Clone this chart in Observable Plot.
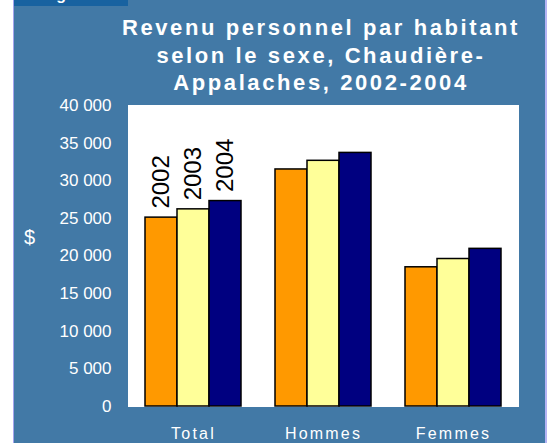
<!DOCTYPE html>
<html>
<head>
<meta charset="utf-8">
<script src="https://cdn.jsdelivr.net/npm/d3@7"></script>
<script src="https://cdn.jsdelivr.net/npm/@observablehq/plot@0.6"></script>
<style>
  html, body { margin: 0; padding: 0; background: #ffffff; width: 555px; height: 443px; overflow: hidden; }
  body { position: relative; font-family: "Liberation Sans", Arial, sans-serif; }
  #panel { position: absolute; left: 13px; top: 0; width: 531px; height: 443px; background: #4279a6;
           border-left: 1px solid #a4a4ee; border-right: 2px solid #b4b4f4; }
  #tab { position: absolute; left: 0; top: 0; width: 114px; height: 6px; background: #1862a0; overflow: hidden; }
  #tab span { position: absolute; left: 24px; top: -14px; color: #fff; font-weight: bold; font-size: 16px; letter-spacing: 2px; }
  #title { position: absolute; left: 57px; top: 14px; width: 500px; text-align: center; color: #fff;
           font-weight: bold; font-size: 22px; line-height: 27.5px; letter-spacing: 2.6px; }
  #ylabel { position: absolute; left: 10px; top: 226px; color: #fff; font-size: 20px; }
  #chart { position: absolute; left: 0; top: 95px; }
  #chart g[aria-label^="fx-axis"] text { font-size: 16px; letter-spacing: 2.2px; }
</style>
</head>
<body>
<div id="panel">
  <div id="tab"><span>Figure</span></div>
  <div id="title">Revenu personnel par habitant<br>selon le sexe, Chaudière-<br>Appalaches, 2002-2004</div>
  <div id="ylabel">$</div>
  <div id="chart"></div>
</div>
<script>
const categories = ["Total", "Hommes", "Femmes"];
const years = ["2002", "2003", "2004"];
const revenu2002 = [25100, 31500, 18500];
const revenu2003 = [26200, 32650, 19600];
const revenu2004 = [27300, 33700, 20950];
const yTicks = [0, 5000, 10000, 15000, 20000, 25000, 30000, 35000, 40000];
const yTickLabels = ["0", "5 000", "10 000", "15 000", "20 000", "25 000", "30 000", "35 000", "40 000"];
const yearColors = ["#FF9900", "#FFFF99", "#000080"];

const series = [revenu2002, revenu2003, revenu2004];
const rows = categories.flatMap((c, i) => years.map((y, j) => ({category: c, year: y, value: series[j][i]})));

const chart = Plot.plot({
  width: 531,
  height: 348,
  marginLeft: 113,
  marginRight: 27,
  marginTop: 10,
  marginBottom: 37,
  style: {background: "transparent", color: "white", fontFamily: "'Liberation Sans', Arial, sans-serif", fontSize: "17px", overflow: "visible"},
  facet: {data: rows, x: "category"},
  fx: {domain: categories, padding: 0, label: null, axis: "bottom", tickSize: 0, tickPadding: 21},
  x: {domain: years, paddingInner: 0, paddingOuter: 0.53, axis: null},
  y: {domain: [0, 40000], ticks: yTicks, tickFormat: d => yTickLabels[yTicks.indexOf(d)], tickSize: 0, tickPadding: 17, label: null},
  color: {domain: years, range: yearColors},
  marks: [
    Plot.frame({fill: "white", stroke: "white", strokeWidth: 1}),
    Plot.barY(rows, {x: "year", y: "value", fill: "year", stroke: "black", strokeWidth: 1.5}),
    Plot.text(rows, {filter: d => d.category === "Total", x: "year", y: "value", text: "year",
      rotate: -90, textAnchor: "start", dy: -9, fontSize: 24, fill: "black"})
  ]
});
document.getElementById("chart").appendChild(chart);
</script>
</body>
</html>
